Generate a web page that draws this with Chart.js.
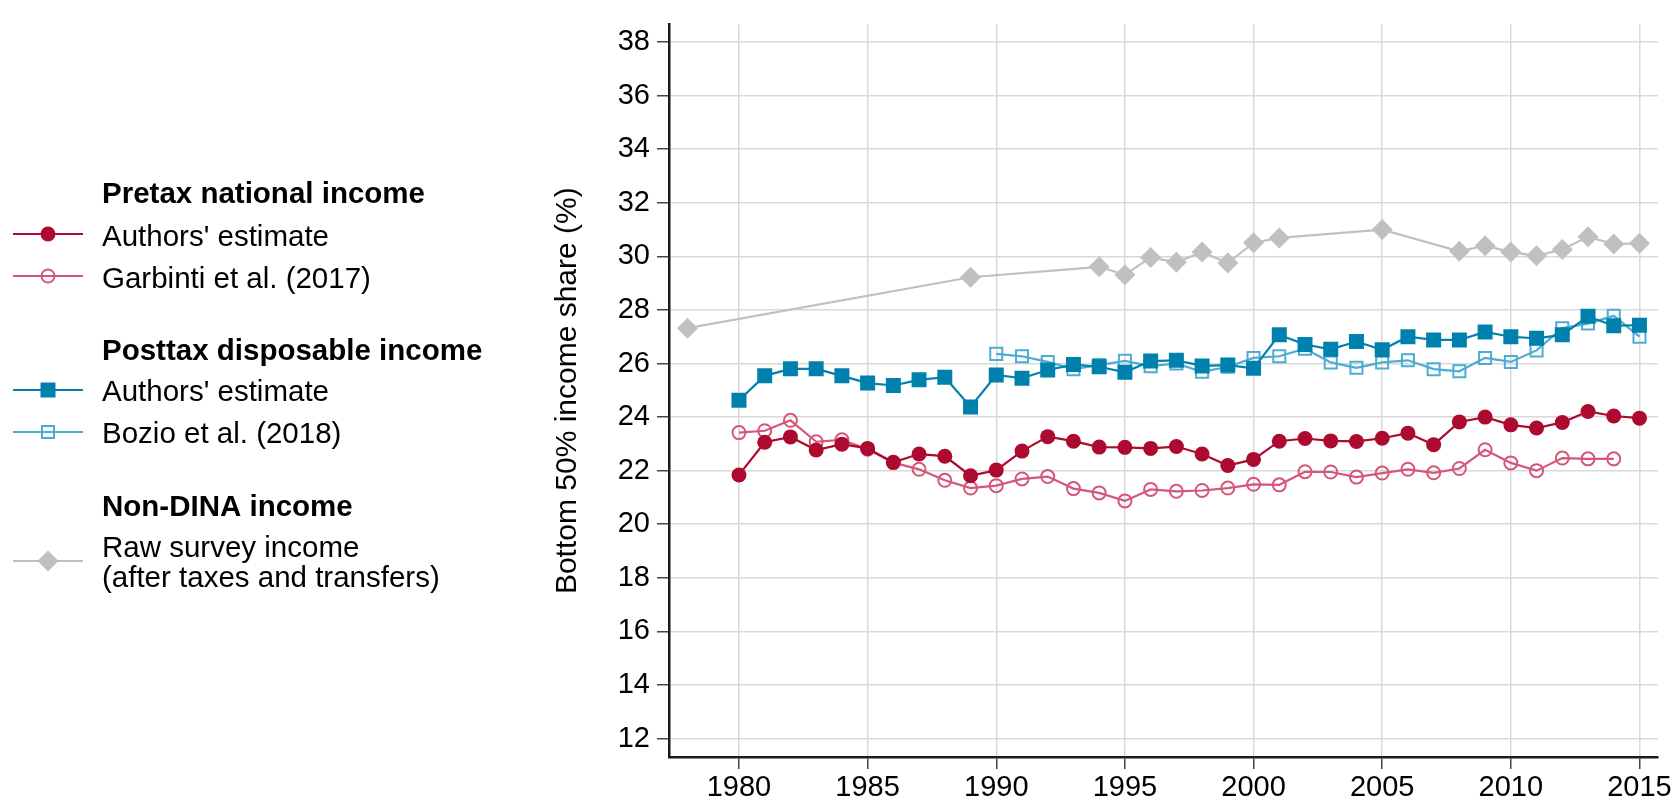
<!DOCTYPE html>
<html><head><meta charset="utf-8">
<script src="https://cdn.jsdelivr.net/npm/chart.js@4.4.1/dist/chart.umd.min.js"></script>
<style>html,body{margin:0;padding:0;background:#fff;}#wrap{width:1675px;height:805px;}</style>
</head><body><div id="wrap"><canvas id="c" width="1675" height="805"></canvas></div>
<script>
// ---------- data ----------
const yearsFull = [1980,1981,1982,1983,1984,1985,1986,1987,1988,1989,1990,1991,1992,1993,1994,1995,1996,1997,1998,1999,2000,2001,2002,2003,2004,2005,2006,2007,2008,2009,2010,2011,2012,2013,2014,2015];
const yearsGarbinti = [1980,1981,1982,1983,1984,1985,1986,1987,1988,1989,1990,1991,1992,1993,1994,1995,1996,1997,1998,1999,2000,2001,2002,2003,2004,2005,2006,2007,2008,2009,2010,2011,2012,2013,2014];
const yearsBozio = [1990,1991,1992,1993,1994,1995,1996,1997,1998,1999,2000,2001,2002,2003,2004,2005,2006,2007,2008,2009,2010,2011,2012,2013,2014,2015];
const yearsSurvey = [1978,1989,1994,1995,1996,1997,1998,1999,2000,2001,2005,2008,2009,2010,2011,2012,2013,2014,2015];

const pretaxAuthors = [21.84,23.06,23.26,22.77,22.99,22.83,22.31,22.62,22.54,21.81,22.02,22.73,23.27,23.10,22.88,22.87,22.83,22.90,22.62,22.19,22.42,23.10,23.20,23.11,23.09,23.21,23.40,22.97,23.82,24.00,23.71,23.59,23.80,24.21,24.04,23.96];
const pretaxGarbinti = [23.42,23.49,23.88,23.08,23.15,22.80,22.30,22.05,21.64,21.35,21.44,21.69,21.78,21.33,21.17,20.87,21.30,21.23,21.26,21.35,21.49,21.47,21.96,21.95,21.76,21.91,22.05,21.92,22.08,22.78,22.29,22.00,22.47,22.44,22.44];
const posttaxAuthors = [24.63,25.54,25.80,25.80,25.54,25.27,25.18,25.39,25.49,24.38,25.57,25.45,25.76,25.96,25.88,25.67,26.09,26.12,25.91,25.94,25.82,27.07,26.71,26.53,26.82,26.51,27.00,26.88,26.88,27.18,27.00,26.94,27.07,27.76,27.41,27.43];
const posttaxBozio = [26.36,26.27,26.06,25.79,25.94,26.10,25.90,26.00,25.69,25.88,26.21,26.27,26.55,26.04,25.84,26.04,26.12,25.79,25.71,26.21,26.06,26.49,27.32,27.49,27.78,27.00];
const rawSurvey = [27.32,29.22,29.61,29.31,29.96,29.78,30.16,29.75,30.51,30.69,31.00,30.19,30.40,30.16,30.02,30.26,30.73,30.46,30.49];

const xTicks = [1980,1985,1990,1995,2000,2005,2010,2015];
const yTicks = [12,14,16,18,20,22,24,26,28,30,32,34,36,38];

const legendGroups = ["Pretax national income","Posttax disposable income","Non-DINA income"];
const seriesLabels = ["Authors' estimate","Garbinti et al. (2017)","Authors' estimate","Bozio et al. (2018)","Raw survey income","(after taxes and transfers)"];
const yTitle = "Bottom 50% income share (%)";

// ---------- styles ----------
const C_RED = '#ad0a2f', C_PINK = '#d4577a', C_BLUE = '#0080ad', C_LBLUE = '#4badd2', C_GRAY = '#c0c0c0';
const FONT = '"Liberation Sans", Arial, Helvetica, sans-serif';
const FS = 29;
const FS_LEG = 29.5;
const FS_TITLE = 30;

function pts(xs, ys){ return xs.map((x,i)=>({x:x, y:ys[i]})); }

const datasets = [
  {label:'pretaxAuthors', data:pts(yearsFull, pretaxAuthors), borderColor:C_RED, backgroundColor:C_RED,
   pointStyle:'circle', pointRadius:7.5, pointBorderWidth:0, pointBackgroundColor:C_RED, borderWidth:2.2},
  {label:'posttaxAuthors', data:pts(yearsFull, posttaxAuthors), borderColor:C_BLUE, backgroundColor:C_BLUE,
   pointStyle:'rect', pointRadius:10.6, pointBorderWidth:0, pointBackgroundColor:C_BLUE, borderWidth:2.2},
  {label:'pretaxGarbinti', data:pts(yearsGarbinti, pretaxGarbinti), borderColor:C_PINK, backgroundColor:'rgba(0,0,0,0)',
   pointStyle:'circle', pointRadius:6.5, pointBorderWidth:2, pointBorderColor:C_PINK, pointBackgroundColor:'rgba(0,0,0,0)', borderWidth:2.2},
  {label:'posttaxBozio', data:pts(yearsBozio, posttaxBozio), borderColor:C_LBLUE, backgroundColor:'rgba(0,0,0,0)',
   pointStyle:'rect', pointRadius:8.5, pointBorderWidth:2, pointBorderColor:C_LBLUE, pointBackgroundColor:'rgba(0,0,0,0)', borderWidth:2.2},
  {label:'rawSurvey', data:pts(yearsSurvey, rawSurvey), borderColor:C_GRAY, backgroundColor:C_GRAY,
   pointStyle:'rectRot', pointRadius:10.5, pointBorderWidth:0, pointBackgroundColor:C_GRAY, borderWidth:2.2}
];
datasets.forEach(d=>{ d.tension=0; d.fill=false; d.pointHoverRadius=d.pointRadius; });

// legend layout (positions only)
const legendLayout = [
  {kind:'header', text:legendGroups[0], base:203},
  {kind:'item', ds:0, lineY:234, texts:[seriesLabels[0]], bases:[246]},
  {kind:'item', ds:2, lineY:276, texts:[seriesLabels[1]], bases:[288]},
  {kind:'header', text:legendGroups[1], base:360},
  {kind:'item', ds:1, lineY:390, texts:[seriesLabels[2]], bases:[401]},
  {kind:'item', ds:3, lineY:432, texts:[seriesLabels[3]], bases:[443]},
  {kind:'header', text:legendGroups[2], base:516},
  {kind:'item', ds:4, lineY:561, texts:[seriesLabels[4], seriesLabels[5]], bases:[557,587]}
];

function drawMarker(ctx, ds, x, y){
  const r = ds.pointRadius;
  ctx.beginPath();
  if (ds.pointStyle === 'circle') {
    ctx.arc(x, y, r, 0, Math.PI*2);
  } else if (ds.pointStyle === 'rect') {
    const s = Math.SQRT1_2 * r;
    ctx.rect(x - s, y - s, 2*s, 2*s);
  } else {
    ctx.moveTo(x - r, y); ctx.lineTo(x, y - r); ctx.lineTo(x + r, y); ctx.lineTo(x, y + r); ctx.closePath();
  }
  ctx.fillStyle = ds.pointBackgroundColor;
  ctx.fill();
  if (ds.pointBorderWidth > 0) {
    ctx.lineWidth = ds.pointBorderWidth;
    ctx.strokeStyle = ds.pointBorderColor;
    ctx.stroke();
  }
}

const groupLegend = {
  id:'groupLegend',
  afterDraw(chart){
    const ctx = chart.ctx;
    ctx.save();
    ctx.textAlign = 'left';
    ctx.textBaseline = 'alphabetic';
    ctx.fillStyle = '#000';
    legendLayout.forEach(row=>{
      if (row.kind === 'header') {
        ctx.font = 'bold ' + FS_LEG + 'px ' + FONT;
        ctx.fillStyle = '#000';
        ctx.fillText(row.text, 102, row.base);
      } else {
        const ds = datasets[row.ds];
        ctx.beginPath();
        ctx.moveTo(13, row.lineY); ctx.lineTo(83, row.lineY);
        ctx.lineWidth = ds.borderWidth; ctx.strokeStyle = ds.borderColor; ctx.stroke();
        drawMarker(ctx, ds, 48, row.lineY);
        ctx.font = FS_LEG + 'px ' + FONT;
        ctx.fillStyle = '#000';
        row.texts.forEach((t,i)=>ctx.fillText(t, 102, row.bases[i]));
      }
    });
    ctx.restore();
  }
};

new Chart(document.getElementById('c'), {
  type:'line',
  data:{datasets:datasets},
  options:{
    responsive:false,
    animation:false,
    events:[],
    layout:{padding:{left:547, top:12, right:17, bottom:0}},
    plugins:{legend:{display:false}, tooltip:{enabled:false}},
    scales:{
      x:{
        type:'linear', position:'bottom', min:1977.28, max:2015.72,
        afterBuildTicks: s => { s.ticks = xTicks.map(v=>({value:v})); },
        afterFit: s => { s.height = 48; },
        grid:{color:'#d9d9d9', lineWidth:1.5, drawTicks:true, tickLength:12, tickColor:'#444', tickWidth:1.5},
        border:{display:true, color:'#1a1a1a', width:2.5},
        ticks:{font:{family:FONT, size:FS}, color:'#000', padding:2, maxRotation:0, autoSkip:false, callback:v=>String(v)}
      },
      y:{
        type:'linear', position:'left', min:11.31, max:38.66,
        afterBuildTicks: s => { s.ticks = yTicks.map(v=>({value:v})); },
        afterFit: s => { s.width = 122; },
        grid:{color:'#d9d9d9', lineWidth:1.5, drawTicks:true, tickLength:12, tickColor:'#444', tickWidth:1.5},
        border:{display:true, color:'#1a1a1a', width:2.5},
        ticks:{font:{family:FONT, size:FS}, color:'#000', padding:7, autoSkip:false, callback:v=>String(v)},
        title:{display:true, text:yTitle, font:{family:FONT, size:FS_TITLE}, color:'#000', padding:{top:3,bottom:4}}
      }
    }
  },
  plugins:[groupLegend]
});
</script>
</body></html>
